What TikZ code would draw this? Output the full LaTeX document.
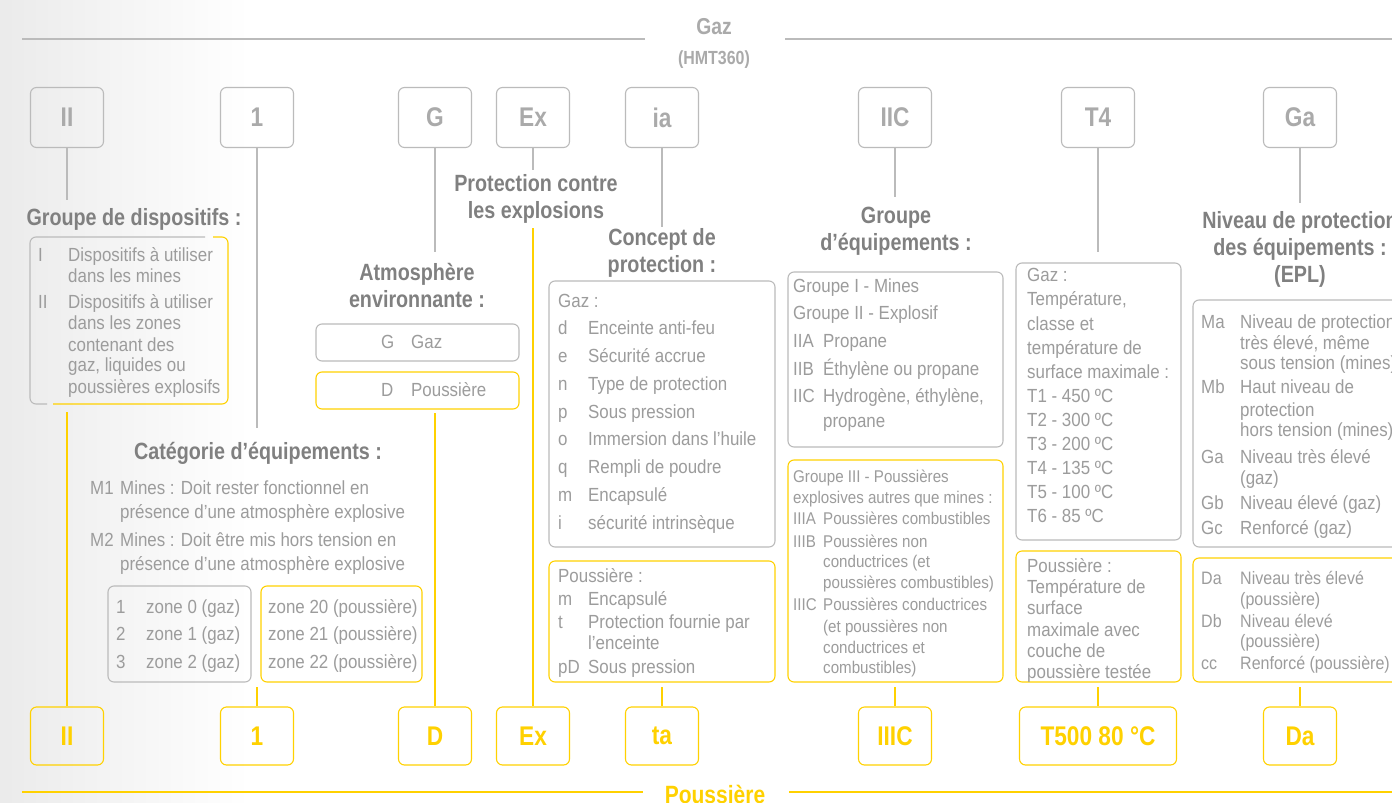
\documentclass[tikz,border=0pt]{standalone}
\usepackage{fontspec}
\newfontfamily\bodyf{Liberation Sans}[FakeStretch=0.89]
\newfontfamily\headf{Liberation Sans}[FakeStretch=0.84]
\definecolor{bgray}{HTML}{BBBBBB}
\definecolor{ylw}{HTML}{FFD100}
\definecolor{hgray}{HTML}{808080}
\definecolor{tgray}{HTML}{9C9C9C}
\definecolor{lgray}{HTML}{AAAAAA}
\tikzset{
  frame/.style={line width=1.1pt, rounded corners=6pt, inner sep=0pt, outer sep=0pt, anchor=north west},
  gframe/.style={frame, draw=bgray},
  yframe/.style={frame, draw=ylw},
  tag/.style={rounded corners=6pt, line width=1.1pt, minimum width=73pt, minimum height=60pt, inner sep=0pt, font=\headf\bfseries\fontsize{27}{27}\selectfont},
  gtag/.style={tag, draw=bgray, text=lgray},
  ytag/.style={tag, draw=ylw, text=ylw, minimum height=58pt},
  gline/.style={draw=bgray, line width=1.1pt},
  yline/.style={draw=ylw, line width=1.1pt},
  head/.style={font=\headf\bfseries\fontsize{23.5}{27}\selectfont, text=hgray, align=center, inner sep=0pt},
  body/.style={font=\bodyf\fontsize{19}{21}\selectfont, text=tgray, inner sep=0pt, anchor=base west},
  small/.style={body, font=\bodyf\fontsize{17}{21}\selectfont},
  mid/.style={body, font=\bodyf\fontsize{18}{21}\selectfont},
}
\newcounter{ln}
\newcommand\tl[4][body]{\stepcounter{ln}\node[#1] (ln\arabic{ln}) at (#2,#3) {#4};}
\begin{document}
\begin{tikzpicture}[x=1pt,y=-1pt]
\useasboundingbox (0,0) rectangle (1392,803);
\fill[white] (0,0) rectangle (1392,803);
\shade[left color=black!8, right color=white] (0,0) rectangle (250,803);

% top and bottom rules
\node[font=\headf\bfseries\fontsize{23}{23}\selectfont, text=lgray, inner sep=0pt] (gaz) at (714,27) {Gaz};
\node[font=\headf\bfseries\fontsize{19}{19}\selectfont, text=lgray, inner sep=0pt] (hmt) at (714,60) {(HMT360)};
\coordinate (r1) at (22,39); \coordinate (r2) at (645,39);
\coordinate (r3) at (785,39); \coordinate (r4) at (1392,39);
\draw[gline] (r1) -- (r2); \draw[gline] (r3) -- (r4);
\node[font=\headf\bfseries\fontsize{25}{25}\selectfont, text=ylw, inner sep=0pt] (pous) at (715,794) {Poussière};
\coordinate (s1) at (22,792); \coordinate (s2) at (643,792);
\coordinate (s3) at (789,792); \coordinate (s4) at (1392,792);
\draw[yline] (s1) -- (s2); \draw[yline] (s3) -- (s4);

% top tags
\node[gtag] (tagII) at (67,117.5) {II};
\node[gtag] (tag1) at (257,117.5) {1};
\node[gtag] (tagG) at (435,117.5) {G};
\node[gtag] (tagEx) at (533,117.5) {Ex};
\node[gtag] (tagia) at (662,117.5) {ia};
\node[gtag] (tagIIC) at (895,117.5) {IIC};
\node[gtag] (tagT4) at (1098,117.5) {T4};
\node[gtag] (tagGa) at (1300,117.5) {Ga};

% bottom tags
\node[ytag] (bII) at (67,736) {II};
\node[ytag] (b1) at (257,736) {1};
\node[ytag] (bD) at (435,736) {D};
\node[ytag] (bEx) at (533,736) {Ex};
\node[ytag] (bta) at (662,736) {ta};
\node[ytag] (bIIIC) at (895,736) {IIIC};
\node[ytag, minimum width=157pt] (bT) at (1098,736) {T500 80 °C};
\node[ytag] (bDa) at (1300,736) {Da};

% top connectors
\coordinate (cII) at (67,200);   \draw[gline] (tagII.south) -- (cII);
\coordinate (c1) at (257,428);   \draw[gline] (tag1.south) -- (c1);
\coordinate (cG) at (435,252);   \draw[gline] (tagG.south) -- (cG);
\coordinate (cEx) at (533,170);  \draw[gline] (tagEx.south) -- (cEx);
\coordinate (cia) at (662,227);  \draw[gline] (tagia.south) -- (cia);
\coordinate (cIIC) at (895,197); \draw[gline] (tagIIC.south) -- (cIIC);
\coordinate (cT4) at (1098,252); \draw[gline] (tagT4.south) -- (cT4);
\coordinate (cGa) at (1300,203); \draw[gline] (tagGa.south) -- (cGa);

% bottom connectors
\coordinate (dII) at (67,412);   \draw[yline] (dII) -- (bII.north);
\coordinate (d1) at (257,687);   \draw[yline] (d1) -- (b1.north);
\coordinate (dD) at (435,413);   \draw[yline] (dD) -- (bD.north);
\coordinate (dEx) at (533,228);  \draw[yline] (dEx) -- (bEx.north);
\coordinate (dta) at (662,687);  \draw[yline] (dta) -- (bta.north);
\coordinate (dIIIC) at (895,687);\draw[yline] (dIIIC) -- (bIIIC.north);
\coordinate (dT) at (1098,687);  \draw[yline] (dT) -- (bT.north);
\coordinate (dDa) at (1300,687); \draw[yline] (dDa) -- (bDa.north);

% frames
\node[frame, minimum width=198pt, minimum height=167pt] (grp) at (30,237) {};
\draw[gline, rounded corners=6pt] (205,237) -- (30,237) -- (30,404) -- (47,404);
\draw[yline, rounded corners=6pt] (213,237) -- (228,237) -- (228,404) -- (53,404);
\node[gframe, minimum width=203pt, minimum height=37pt] (atmG) at (316,324) {};
\node[yframe, minimum width=203pt, minimum height=37pt] (atmD) at (316,372) {};
\node[gframe, minimum width=226pt, minimum height=266pt] (conG) at (549,281) {};
\node[yframe, minimum width=226pt, minimum height=121pt] (conD) at (549,561) {};
\node[gframe, minimum width=143pt, minimum height=96pt] (catG) at (108,586) {};
\node[yframe, minimum width=161pt, minimum height=96pt] (catD) at (261,586) {};
\node[gframe, minimum width=215pt, minimum height=175pt] (eqG) at (788,272) {};
\node[yframe, minimum width=215pt, minimum height=222pt] (eqD) at (788,460) {};
\node[gframe, minimum width=165pt, minimum height=277pt] (fTG) at (1016,263) {};
\node[yframe, minimum width=165pt, minimum height=131pt] (fTD) at (1016,551) {};
\node[gframe, minimum width=215pt, minimum height=247pt] (eplG) at (1193,300) {};
\node[yframe, minimum width=215pt, minimum height=124pt] (eplD) at (1193,558) {};

% headings
\node[head] (hGrp) at (134,219) {Groupe de dispositifs :};
\node[head] (hCat) at (258,453) {Catégorie d’équipements :};
\node[head] (hAtm) at (417,285) {Atmosphère\\environnante :};
\node[head] (hPro) at (536,199) {Protection contre\\les explosions};
\node[head] (hCon) at (662,253) {Concept de\\protection :};
\node[head] (hEq) at (896,231) {Groupe\\d’équipements :};
\node[head] (hEPL) at (1300,249) {Niveau de protection\\des équipements :\\(EPL)};

% Groupe de dispositifs
\tl{38}{261}{I} \tl{68}{261}{Dispositifs à utiliser}
\tl{68}{282}{dans les mines}
\tl{38}{308}{II} \tl{68}{308}{Dispositifs à utiliser}
\tl{68}{329}{dans les zones}
\tl{68}{351}{contenant des}
\tl{68}{371}{gaz, liquides ou}
\tl{68}{393}{poussières explosifs}

% Atmosphere
\tl{381}{348}{G} \tl{411}{348}{Gaz}
\tl{381}{396}{D} \tl{411}{396}{Poussière}

% Concept gaz
\tl{558}{307}{Gaz :}
\tl{558}{334}{d} \tl{588}{334}{Enceinte anti-feu}
\tl{558}{362}{e} \tl{588}{362}{Sécurité accrue}
\tl{558}{390}{n} \tl{588}{390}{Type de protection}
\tl{558}{418}{p} \tl{588}{418}{Sous pression}
\tl{558}{445}{o} \tl{588}{445}{Immersion dans l’huile}
\tl{558}{473}{q} \tl{588}{473}{Rempli de poudre}
\tl{558}{501}{m} \tl{588}{501}{Encapsulé}
\tl{558}{529}{i} \tl{588}{529}{sécurité intrinsèque}

% Concept poussiere
\tl{558}{582}{Poussière :}
\tl{558}{605}{m} \tl{588}{605}{Encapsulé}
\tl{558}{628}{t} \tl{588}{628}{Protection fournie par}
\tl{588}{649}{l’enceinte}
\tl{558}{673}{pD} \tl{588}{673}{Sous pression}

% Categorie
\tl{90}{494}{M1} \tl{120}{494}{Mines : Doit rester fonctionnel en}
\tl{120}{518}{présence d’une atmosphère explosive}
\tl{90}{546}{M2} \tl{120}{546}{Mines : Doit être mis hors tension en}
\tl{120}{570}{présence d’une atmosphère explosive}
\tl{116}{613}{1} \tl{146}{613}{zone 0 (gaz)}
\tl{116}{640}{2} \tl{146}{640}{zone 1 (gaz)}
\tl{116}{668}{3} \tl{146}{668}{zone 2 (gaz)}
\tl{268}{613}{zone 20 (poussière)}
\tl{268}{640}{zone 21 (poussière)}
\tl{268}{668}{zone 22 (poussière)}

% Groupe d'equipements gaz
\tl{793}{292}{Groupe I - Mines}
\tl{793}{319}{Groupe II - Explosif}
\tl{793}{347}{IIA} \tl{823}{347}{Propane}
\tl{793}{375}{IIB} \tl{823}{375}{Éthylène ou propane}
\tl{793}{402}{IIC} \tl{823}{402}{Hydrogène, éthylène,}
\tl{823}{427}{propane}

% Groupe d'equipements poussiere
\tl[small]{793}{482}{Groupe III - Poussières}
\tl[small]{793}{503}{explosives autres que mines :}
\tl[small]{793}{524}{IIIA} \tl[small]{823}{524}{Poussières combustibles}
\tl[small]{793}{547}{IIIB} \tl[small]{823}{547}{Poussières non}
\tl[small]{823}{567}{conductrices (et}
\tl[small]{823}{588}{poussières combustibles)}
\tl[small]{793}{610}{IIIC} \tl[small]{823}{610}{Poussières conductrices}
\tl[small]{823}{632}{(et poussières non}
\tl[small]{823}{653}{conductrices et}
\tl[small]{823}{673}{combustibles)}

% Temperature gaz
\tl{1027}{281}{Gaz :}
\tl{1027}{305}{Température,}
\tl{1027}{330}{classe et}
\tl{1027}{354}{température de}
\tl{1027}{378}{surface maximale :}
\tl{1027}{402}{T1 - 450 ºC}
\tl{1027}{426}{T2 - 300 ºC}
\tl{1027}{450}{T3 - 200 ºC}
\tl{1027}{474}{T4 - 135 ºC}
\tl{1027}{498}{T5 - 100 ºC}
\tl{1027}{522}{T6 - 85 ºC}

% Temperature poussiere
\tl{1027}{572}{Poussière :}
\tl{1027}{593}{Température de}
\tl{1027}{614}{surface}
\tl{1027}{636}{maximale avec}
\tl{1027}{657}{couche de}
\tl{1027}{678}{poussière testée}

% EPL gaz
\tl{1201}{328}{Ma} \tl{1240}{328}{Niveau de protection}
\tl{1240}{349}{très élevé, même}
\tl{1240}{369}{sous tension (mines)}
\tl{1201}{393}{Mb} \tl{1240}{393}{Haut niveau de}
\tl{1240}{416}{protection}
\tl{1240}{436}{hors tension (mines)}
\tl{1201}{463}{Ga} \tl{1240}{463}{Niveau très élevé}
\tl{1240}{484}{(gaz)}
\tl{1201}{509}{Gb} \tl{1240}{509}{Niveau élevé (gaz)}
\tl{1201}{534}{Gc} \tl{1240}{534}{Renforcé (gaz)}

% EPL poussiere
\tl[mid]{1201}{584}{Da} \tl[mid]{1240}{584}{Niveau très élevé}
\tl[mid]{1240}{605}{(poussière)}
\tl[mid]{1201}{627}{Db} \tl[mid]{1240}{627}{Niveau élevé}
\tl[mid]{1240}{647}{(poussière)}
\tl[mid]{1201}{669}{cc} \tl[mid]{1240}{669}{Renforcé (poussière)}
\end{tikzpicture}
\end{document}
